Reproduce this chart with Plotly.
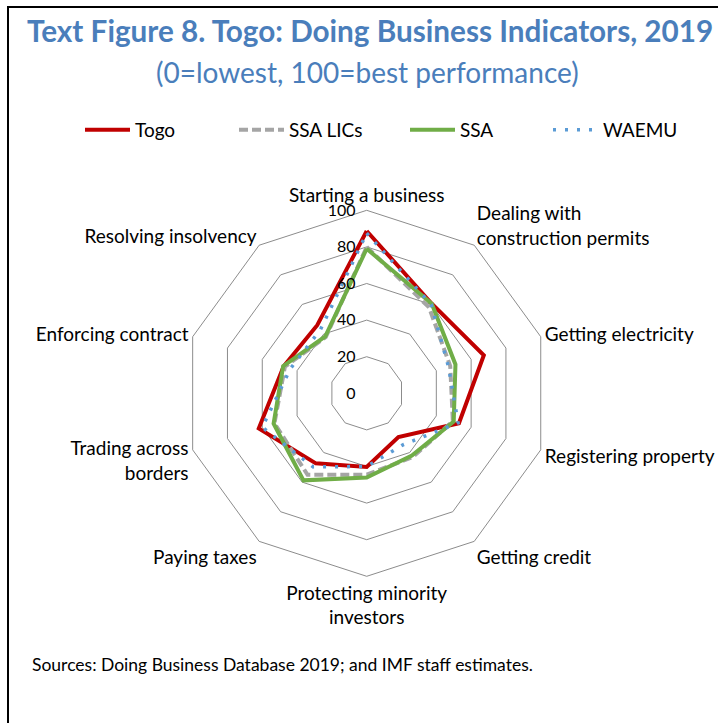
import plotly.graph_objects as go

categories = [
    "Starting a business",
    "Dealing with<br>construction permits",
    "Getting electricity",
    "Registering property",
    "Getting credit",
    "Protecting minority<br>investors",
    "Paying taxes",
    "Trading across<br>borders",
    "Enforcing contract",
    "Resolving insolvency",
]
togo = [88.7, 60.5, 67.3, 53.0, 29.5, 40.3, 47.3, 62.0, 47.7, 46.0]
ssa_lics = [80.0, 58.0, 48.0, 49.5, 43.0, 44.5, 55.0, 53.0, 47.0, 38.0]
ssa = [79.0, 60.5, 51.0, 50.0, 42.0, 46.0, 58.8, 53.5, 48.0, 38.5]
waemu = [87.5, 60.0, 47.0, 52.5, 34.5, 40.0, 49.7, 60.0, 43.8, 43.0]
radial_ticks = [0, 20, 40, 60, 80, 100]

series = [
    ("Togo", togo, dict(color="#C00000", width=4), 94),
    ("SSA LICs", ssa_lics, dict(color="#A5A5A5", width=4, dash="9px,4px"), 111),
    ("SSA", ssa, dict(color="#70AD47", width=4), 83),
    ("WAEMU", waemu, dict(color="#5B9BD5", width=3.5, dash="3px,9px"), 75),
]

W, H = 718, 723
FONT = "Lato"

fig = go.Figure()
for name, vals, line, lw in series:
    fig.add_trace(go.Scatterpolar(
        r=vals + vals[:1],
        theta=categories + categories[:1],
        mode="lines",
        name=name,
        line=line,
        legendwidth=lw,
    ))

cx, cy, R = 366.7, 393.3, 183.0
fig.update_layout(
    width=W, height=H,
    margin=dict(l=0, r=0, t=0, b=0),
    paper_bgcolor="white",
    font=dict(family=FONT, color="#000000"),
    showlegend=True,
    legend=dict(
        orientation="h", x=80 / W, xanchor="left",
        y=1 - 130 / H, yanchor="middle",
        font=dict(family=FONT, size=19, color="#000000"),
        itemwidth=45,
    ),
    polar=dict(
        domain=dict(x=[(cx - R) / W, (cx + R) / W],
                    y=[(H - cy - R) / H, (H - cy + R) / H]),
        gridshape="linear",
        bgcolor="white",
        radialaxis=dict(
            range=[0, 100], tickvals=radial_ticks,
            ticktext=[str(v) for v in radial_ticks],
            angle=90, side="counterclockwise", tickangle=90,
            showline=False, ticks="outside", ticklen=5,
            tickcolor="rgba(0,0,0,0)",
            gridcolor="#8C8C8C", gridwidth=1,
            tickfont=dict(family=FONT, size=16, color="#000000"),
        ),
        angularaxis=dict(
            rotation=90, direction="clockwise",
            showgrid=False, showline=True,
            linecolor="#8C8C8C", linewidth=1, ticks="",
            tickfont=dict(family=FONT, size=19, color="#000000"),
        ),
    ),
    annotations=[
        dict(text="<b>Text Figure 8. Togo: Doing Business Indicators, 2019</b>",
             x=370 / W, y=1 - 31 / H, xref="paper", yref="paper",
             xanchor="center", yanchor="middle", showarrow=False,
             font=dict(family=FONT, size=29.7, color="#4A7EBB")),
        dict(text="(0=lowest, 100=best performance)",
             x=367 / W, y=1 - 72 / H, xref="paper", yref="paper",
             xanchor="center", yanchor="middle", showarrow=False,
             font=dict(family=FONT, size=28, color="#4A7EBB")),
        dict(text="Sources: Doing Business Database 2019; and IMF staff estimates.",
             x=30 / W, y=1 - 664 / H, xref="paper", yref="paper",
             xanchor="left", yanchor="middle", showarrow=False,
             font=dict(family=FONT, size=17.5, color="#000000")),
    ],
    shapes=[
        dict(type="line", xref="paper", yref="paper",
             x0=7 / W, x1=1, y0=1 - 7 / H, y1=1 - 7 / H,
             line=dict(color="black", width=2)),
        dict(type="line", xref="paper", yref="paper",
             x0=8 / W, x1=8 / W, y0=1 - 7 / H, y1=0,
             line=dict(color="black", width=2)),
    ],
)

fig.write_html(
    "out.html",
    config={"displayModeBar": False},
    post_script="document.body.style.margin='0';document.body.style.padding='0';document.body.style.overflow='hidden';",
)
